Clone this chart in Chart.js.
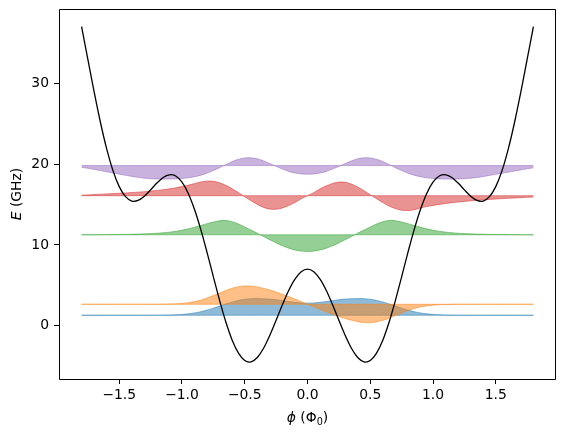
<!DOCTYPE html>
<html>
<head>
<meta charset="utf-8">
<script src="https://cdn.jsdelivr.net/npm/chart.js@4.4.1/dist/chart.umd.min.js"></script>
<style>
  html, body { margin: 0; padding: 0; background: #fff; }
  canvas { display: block; }
</style>
</head>
<body>
<canvas id="chart-wavefunctions" width="564" height="436"></canvas>
<script>
// phase grid (in units of Phi_0)
var PHI = [-1.8, -1.75, -1.7, -1.65, -1.6, -1.55, -1.5, -1.45, -1.4, -1.35, -1.3, -1.25,
  -1.2, -1.15, -1.1, -1.05, -1.0, -0.95, -0.9, -0.85, -0.8, -0.75, -0.7, -0.65,
  -0.6, -0.55, -0.5, -0.45, -0.4, -0.35, -0.3, -0.25, -0.2, -0.15, -0.1, -0.05, 0,
  0.05, 0.1, 0.15, 0.2, 0.25, 0.3, 0.35, 0.4, 0.45, 0.5, 0.55, 0.6,
  0.65, 0.7, 0.75, 0.8, 0.85, 0.9, 0.95, 1.0, 1.05, 1.1, 1.15, 1.2,
  1.25, 1.3, 1.35, 1.4, 1.45, 1.5, 1.55, 1.6, 1.65, 1.7, 1.75, 1.8];

// potential energy (GHz)
var POTENTIAL = [37.03, 32.95, 28.93, 25.18, 21.88, 19.19, 17.21, 15.97, 15.43, 15.5, 16.02, 16.81,
  17.66, 18.35, 18.68, 18.52, 17.76, 16.37, 14.38, 11.89, 9.05, 6.05, 3.11, 0.43,
  -1.79, -3.4, -4.31, -4.48, -3.94, -2.8, -1.19, 0.67, 2.59, 4.36, 5.77, 6.68, 7.0,
  6.68, 5.77, 4.36, 2.59, 0.67, -1.19, -2.8, -3.94, -4.48, -4.31, -3.4, -1.79,
  0.43, 3.11, 6.05, 9.05, 11.89, 14.38, 16.37, 17.76, 18.52, 18.68, 18.35, 17.66,
  16.81, 16.02, 15.5, 15.43, 15.97, 17.21, 19.19, 21.88, 25.18, 28.93, 32.95, 37.03];

// eigenenergies (GHz), one per level
var ENERGIES = [1.29, 2.65, 11.25, 16.09, 19.82];

// scaled wavefunctions, offset from each level
var PSI_0 = [0, 0, 0, 0, 0, 0, 0, 0, 0, 0, 0, 0,
  0.01, 0.015, 0.03, 0.06, 0.1, 0.18, 0.29, 0.44, 0.64, 0.88, 1.14, 1.4,
  1.64, 1.84, 1.98, 2.05, 2.06, 2.04, 2.0, 1.92, 1.82, 1.7, 1.6, 1.52, 1.5,
  1.52, 1.6, 1.7, 1.82, 1.92, 2.0, 2.04, 2.06, 2.05, 1.98, 1.84, 1.64,
  1.4, 1.14, 0.88, 0.64, 0.44, 0.29, 0.18, 0.1, 0.06, 0.03, 0.015, 0.01,
  0, 0, 0, 0, 0, 0, 0, 0, 0, 0, 0, 0];
var PSI_1 = [0, 0, 0, 0, 0, 0, 0, 0, 0, 0, 0, 0,
  0, 0.015, 0.03, 0.06, 0.11, 0.2, 0.33, 0.52, 0.78, 1.08, 1.4, 1.72,
  1.99, 2.18, 2.27, 2.26, 2.15, 1.98, 1.76, 1.51, 1.24, 0.95, 0.64, 0.32, 0,
  -0.32, -0.64, -0.95, -1.24, -1.51, -1.76, -1.98, -2.15, -2.26, -2.27, -2.18, -1.99,
  -1.72, -1.4, -1.08, -0.78, -0.52, -0.33, -0.2, -0.11, -0.06, -0.03, -0.015, 0,
  0, 0, 0, 0, 0, 0, 0, 0, 0, 0, 0, 0];
var PSI_2 = [0, 0.005, 0.01, 0.015, 0.02, 0.03, 0.04, 0.05, 0.07, 0.09, 0.12, 0.15,
  0.19, 0.25, 0.33, 0.43, 0.57, 0.74, 0.94, 1.16, 1.38, 1.58, 1.74, 1.78,
  1.62, 1.34, 0.97, 0.58, 0.2, -0.22, -0.62, -1.0, -1.36, -1.65, -1.88, -2.02, -2.07,
  -2.02, -1.88, -1.65, -1.36, -1.0, -0.62, -0.22, 0.2, 0.58, 0.97, 1.34, 1.62,
  1.78, 1.74, 1.58, 1.38, 1.16, 0.94, 0.74, 0.57, 0.43, 0.33, 0.25, 0.19,
  0.15, 0.12, 0.09, 0.07, 0.05, 0.04, 0.03, 0.02, 0.015, 0.01, 0.005, 0];
var PSI_3 = [0.06, 0.1, 0.14, 0.18, 0.22, 0.26, 0.3, 0.34, 0.39, 0.44, 0.5, 0.57,
  0.65, 0.74, 0.85, 0.98, 1.13, 1.3, 1.5, 1.7, 1.8, 1.78, 1.6, 1.28,
  0.85, 0.38, -0.12, -0.62, -1.08, -1.45, -1.66, -1.68, -1.52, -1.22, -0.85, -0.38, 0,
  0.38, 0.85, 1.22, 1.52, 1.68, 1.66, 1.45, 1.08, 0.62, 0.12, -0.38, -0.85,
  -1.28, -1.6, -1.8, -1.84, -1.74, -1.52, -1.34, -1.2, -1.08, -0.97, -0.87, -0.79,
  -0.71, -0.64, -0.57, -0.51, -0.46, -0.41, -0.36, -0.32, -0.28, -0.24, -0.2, -0.16];
var PSI_4 = [-0.22, -0.34, -0.48, -0.62, -0.78, -0.92, -1.06, -1.2, -1.34, -1.46, -1.56, -1.63,
  -1.66, -1.68, -1.67, -1.65, -1.6, -1.52, -1.38, -1.2, -0.94, -0.62, -0.26, 0.12,
  0.5, 0.78, 0.94, 0.96, 0.84, 0.58, 0.25, -0.1, -0.44, -0.72, -0.92, -1.03, -1.07,
  -1.03, -0.92, -0.72, -0.44, -0.1, 0.25, 0.58, 0.84, 0.96, 0.94, 0.78, 0.5,
  0.12, -0.26, -0.62, -0.94, -1.2, -1.38, -1.52, -1.6, -1.65, -1.67, -1.68, -1.66,
  -1.63, -1.56, -1.47, -1.36, -1.22, -1.08, -0.95, -0.82, -0.68, -0.54, -0.4, -0.28];

var X_TICKS = [-1.5, -1.0, -0.5, 0.0, 0.5, 1.0, 1.5];
var Y_TICKS = [0, 10, 20, 30];

var LEVEL_COLORS = ["31, 119, 180", "255, 127, 14", "44, 160, 44", "214, 39, 40", "148, 103, 189"];
var FONT = "DejaVu Sans";

function points(values, offset) {
  return PHI.map(function (x, i) {
    return { x: x, y: offset + values[i] };
  });
}

var psiList = [PSI_0, PSI_1, PSI_2, PSI_3, PSI_4];
var datasets = [
  {
    label: "potential",
    data: points(POTENTIAL, 0),
    borderColor: "#000",
    borderWidth: 1.3,
    pointRadius: 0,
    tension: 0.3,
    fill: false,
  },
];
// highest level first so the ground state is painted first (index 0 ends up on top)
for (var k = ENERGIES.length - 1; k >= 0; k--) {
  var rgba = "rgba(" + LEVEL_COLORS[k] + ", 0.5)";
  datasets.push({
    label: "psi " + k,
    data: points(psiList[k], ENERGIES[k]),
    borderColor: rgba,
    backgroundColor: rgba,
    borderWidth: 1,
    pointRadius: 0,
    tension: 0.3,
    fill: { value: ENERGIES[k] },
  });
  datasets.push({
    label: "level " + k,
    data: points(PSI_0.map(function () { return 0; }), ENERGIES[k]),
    borderColor: rgba,
    borderWidth: 1,
    pointRadius: 0,
    fill: false,
  });
}

function tickLabel(v) {
  return String(v).replace("-", "\u2212");
}

var frameAndTitles = {
  id: "frameAndTitles",
  afterDraw: function (chart) {
    var c = chart.ctx;
    var a = chart.chartArea;
    var l = Math.round(a.left) + 0.5, r = Math.round(a.right) - 0.5;
    var t = Math.round(a.top) + 0.5, b = Math.round(a.bottom) + 0.5;
    c.save();
    c.strokeStyle = "#000";
    c.lineWidth = 1;
    c.beginPath();
    c.moveTo(l, t); c.lineTo(r, t); c.lineTo(r, b); c.lineTo(l, b); c.closePath();
    c.stroke();

    c.fillStyle = "#000";
    c.textBaseline = "alphabetic";
    c.textAlign = "left";

    // x title: phi (Phi_0)
    var parts = [
      ["\u03D5", "italic 13.9px '" + FONT + "'", 0],
      [" (\u03A6", "13.9px '" + FONT + "'", 0],
      ["0", "9.7px '" + FONT + "'", 2.5],
      [")", "13.9px '" + FONT + "'", 0],
    ];
    var total = 0;
    parts.forEach(function (p) { c.font = p[1]; total += c.measureText(p[0]).width; });
    var x = (a.left + a.right) / 2 - total / 2;
    parts.forEach(function (p) {
      c.font = p[1];
      c.fillText(p[0], x, 422 + p[2]);
      x += c.measureText(p[0]).width;
    });

    // y title: E (GHz)
    var yparts = [
      ["E", "italic 13.9px '" + FONT + "'"],
      [" (GHz)", "13.9px '" + FONT + "'"],
    ];
    total = 0;
    yparts.forEach(function (p) { c.font = p[1]; total += c.measureText(p[0]).width; });
    c.translate(21, (a.top + a.bottom) / 2);
    c.rotate(-Math.PI / 2);
    x = -total / 2;
    yparts.forEach(function (p) {
      c.font = p[1];
      c.fillText(p[0], x, 0);
      x += c.measureText(p[0]).width;
    });
    c.restore();
  },
};

var ctx = document.getElementById("chart-wavefunctions").getContext("2d");

new Chart(ctx, {
  type: "line",
  data: { datasets: datasets },
  options: {
    responsive: false,
    animation: false,
    devicePixelRatio: 1,
    layout: { padding: { top: 9, right: 8, left: 0, bottom: 0 } },
    plugins: {
      legend: { display: false },
      tooltip: { enabled: false },
    },
    scales: {
      x: {
        type: "linear",
        min: -1.98,
        max: 1.98,
        afterBuildTicks: function (scale) {
          scale.ticks = X_TICKS.map(function (v) { return { value: v }; });
        },
        afterFit: function (scale) {
          scale.height = 57;
          scale.paddingLeft = 0;
          scale.paddingRight = 0;
        },
        grid: {
          display: true,
          drawOnChartArea: false,
          drawTicks: true,
          tickLength: 5,
          color: "#000",
          lineWidth: 1,
        },
        border: { display: false },
        ticks: {
          autoSkip: false,
          maxRotation: 0,
          padding: 3,
          color: "#000",
          font: { family: FONT, size: 13.9 },
          callback: function (value) {
            return tickLabel(Number(value).toFixed(1));
          },
        },
      },
      y: {
        type: "linear",
        min: -6.6,
        max: 39.2,
        afterBuildTicks: function (scale) {
          scale.ticks = Y_TICKS.map(function (v) { return { value: v }; });
        },
        afterFit: function (scale) {
          scale.width = 59;
          scale.paddingTop = 0;
          scale.paddingBottom = 0;
        },
        grid: {
          display: true,
          drawOnChartArea: false,
          drawTicks: true,
          tickLength: 5,
          color: "#000",
          lineWidth: 1,
        },
        border: { display: false },
        ticks: {
          padding: 5,
          color: "#000",
          font: { family: FONT, size: 13.9 },
          callback: function (value) {
            return tickLabel(value);
          },
        },
      },
    },
  },
  plugins: [frameAndTitles],
});
</script>
</body>
</html>
